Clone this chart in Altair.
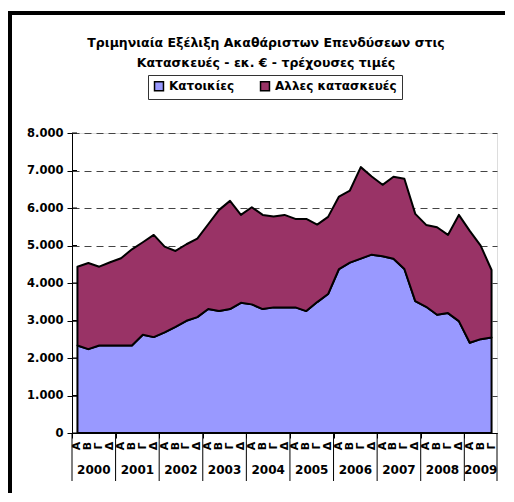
import altair as alt
import pandas as pd

years = ["2000", "2001", "2002", "2003", "2004", "2005", "2006", "2007", "2008", "2009"]
quarter_letters = ["Α", "Β", "Γ", "Δ"]
series_names = ["Κατοικίες", "Αλλες κατασκευές"]
series_colors = ["#9999FF", "#993366"]
title_lines = ["Τριμηνιαία Εξέλιξη Ακαθάριστων Επενδύσεων στις",
               "Κατασκευές - εκ. € - τρέχουσες τιμές"]
y_ticks = [0, 1000, 2000, 3000, 4000, 5000, 6000, 7000, 8000]

housing = [2335, 2236, 2335, 2335, 2335, 2335, 2618, 2557, 2682, 2832, 2992, 3091,
           3305, 3251, 3305, 3473, 3430, 3305, 3350, 3350, 3350, 3251, 3491, 3705,
           4373, 4542, 4649, 4756, 4713, 4649, 4373, 3518, 3366, 3153, 3198, 2984,
           2405, 2503, 2549]
other = [2100, 2298, 2100, 2217, 2324, 2564, 2468, 2725, 2287, 2022, 2041, 2092,
         2262, 2699, 2885, 2343, 2591, 2511, 2421, 2466, 2359, 2458, 2066, 2058,
         1932, 1924, 2441, 2084, 1905, 2183, 2405, 2325, 2183, 2334, 2084, 2832,
         2984, 2493, 1798]

n = len(housing)
font = "DejaVu Sans"

rows = []
for i in range(n):
    rows.append({"idx": i, "series": series_names[0], "value": housing[i], "ord": 0})
    rows.append({"idx": i, "series": series_names[1], "value": other[i], "ord": 1})
df = pd.DataFrame(rows)

qdf = pd.DataFrame({"idx": list(range(n)),
                    "q": [quarter_letters[i % 4] for i in range(n)]})
starts = [4 * k for k in range(len(years))]
ends = [min(4 * k + 3, n - 1) for k in range(len(years))]
ydf = pd.DataFrame({"year": years, "center": [(s + e) / 2 for s, e in zip(starts, ends)]})
sep = [-0.5] + [e + 0.5 for e in ends]
sdf = pd.DataFrame({"b": sep})
tick_vals = [i - 0.5 for i in range(n + 1)]
tdf = pd.DataFrame({"t": title_lines, "line": [0, 1]})
ytdf = pd.DataFrame({"v": y_ticks})

xscale = alt.Scale(domain=[-0.5, n - 0.5], nice=False, zero=False)
yscale = alt.Scale(domain=[0, 8000], nice=False)

y_axis = alt.Axis(values=y_ticks, title=None, labelOverlap=False,
                  labelExpr="replace(format(datum.value, ','), ',', '.')",
                  labelFont=font, labelFontWeight="bold", labelFontSize=11.5,
                  labelColor="black", labelPadding=4, tickSize=5,
                  tickColor="black", domainColor="black",
                  grid=True, gridDash=[7, 5], gridColor="#444444")

area = alt.Chart(df).mark_area(stroke="black", strokeWidth=2, strokeJoin="round").encode(
    x=alt.X("idx:Q", scale=xscale,
            axis=alt.Axis(values=tick_vals, labels=False, title=None, grid=False,
                          tickSize=5, tickColor="black", domainColor="black")),
    y=alt.Y("value:Q", stack="zero", scale=yscale, axis=y_axis),
    color=alt.Color("series:N", scale=alt.Scale(domain=series_names, range=series_colors),
                    sort=series_names,
                    legend=alt.Legend(title=None, orient="none", legendX=76, legendY=-58,
                                      direction="horizontal", strokeColor="#333333",
                                      padding=5, symbolType="square", symbolSize=80,
                                      symbolStrokeColor="black", symbolStrokeWidth=1.5,
                                      labelFont=font, labelFontWeight="bold", labelFontSize=12,
                                      labelColor="black", columnPadding=22, fillColor="white")),
    order=alt.Order("ord:Q"),
)

inner_ticks = alt.Chart(ytdf).mark_rule(color="black", strokeWidth=1).encode(
    y=alt.Y("v:Q", scale=yscale, axis=y_axis), x=alt.value(0), x2=alt.value(5))

qlabels = alt.Chart(qdf).mark_text(angle=270, align="center", baseline="middle",
                                   font=font, fontWeight="bold", fontSize=11, color="black").encode(
    x=alt.X("idx:Q", scale=xscale), y=alt.value(313), text="q:N")

ylabels = alt.Chart(ydf).mark_text(align="center", baseline="middle",
                                   font=font, fontWeight="bold", fontSize=12, color="black").encode(
    x=alt.X("center:Q", scale=xscale), y=alt.value(337), text="year:N")

seps = alt.Chart(sdf).mark_rule(color="black", strokeWidth=1).encode(
    x=alt.X("b:Q", scale=xscale), y=alt.value(300), y2=alt.value(348))

title1 = alt.Chart(tdf).transform_filter("datum.line == 0").mark_text(
    align="center", baseline="alphabetic", font=font, fontWeight="bold", fontSize=12.5,
    color="black").encode(x=alt.value(194), y=alt.value(-86), text="t:N")
title2 = alt.Chart(tdf).transform_filter("datum.line == 1").mark_text(
    align="center", baseline="alphabetic", font=font, fontWeight="bold", fontSize=12.5,
    color="black").encode(x=alt.value(194), y=alt.value(-66), text="t:N")

one = alt.Data(values=[{"k": 1}])
border_v = alt.Chart(one).mark_rule(color="black", strokeWidth=4).encode(
    x=alt.value(-62), y=alt.value(-122), y2=alt.value(420))
border_h = alt.Chart(one).mark_rule(color="black", strokeWidth=4).encode(
    x=alt.value(-64), x2=alt.value(520), y=alt.value(-120))

chart = alt.layer(area, inner_ticks, qlabels, ylabels, seps, title1, title2,
                  border_v, border_h).properties(
    width=425, height=300,
    padding={"left": 64, "top": 125, "right": 8, "bottom": 60},
    autosize=alt.AutoSizeParams(type="none"),
).configure_view(stroke=None).configure(background="white")

chart.save("out.html", embed_options={"renderer": "svg", "actions": False})
